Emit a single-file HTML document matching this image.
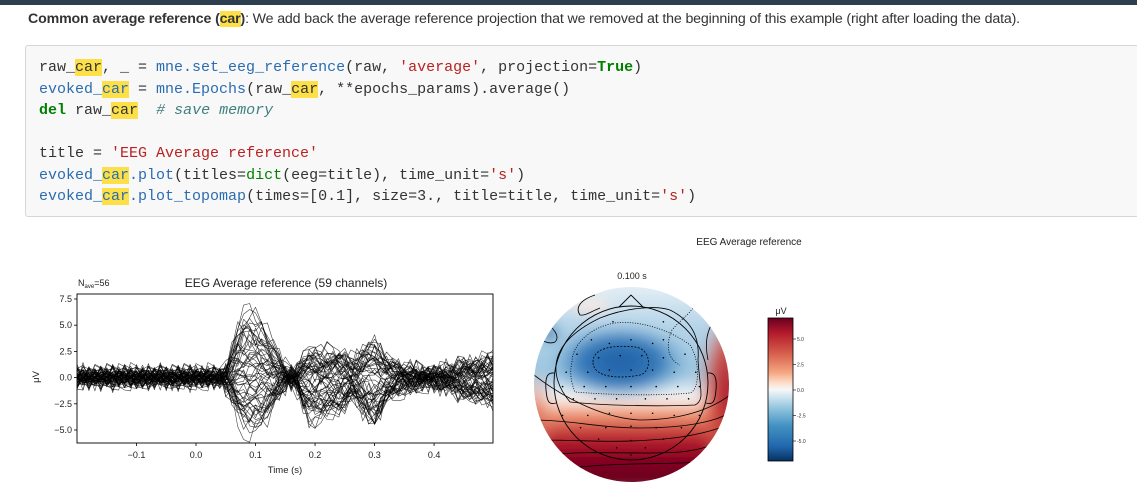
<!DOCTYPE html>
<html><head><meta charset="utf-8">
<style>
body{margin:0;width:1137px;height:494px;overflow:hidden;background:#fff;position:relative;font-family:"Liberation Sans",sans-serif}
#topbar{position:absolute;left:0;top:0;width:1137px;height:5px;background:#2c3e50}
#para{position:absolute;left:28px;top:11px;font-size:14.2px;color:#333;white-space:nowrap;letter-spacing:-0.15px}
.hl{background:#fde047}
#code{position:absolute;left:25px;top:45px;width:1120px;height:170px;background:#f8f8f8;border:1px solid #d6d6d6;border-radius:3px}
#code pre{margin:0;position:absolute;left:13px;top:11px;font-family:"Liberation Mono",monospace;font-size:15px;line-height:21.5px;color:#333}
.f{color:#2a6cb0}.s{color:#ba2121}.k{color:#008000;font-weight:bold}.c{color:#408080;font-style:italic}.g{color:#008000}
svg{position:absolute;left:0;top:0}
</style></head><body>
<div id="topbar"></div>
<div id="para"><b>Common average reference (<span class="hl">car</span>)</b>: We add back the average reference projection that we removed at the beginning of this example (right after loading the data).</div>
<div id="code"><pre>raw_<span class="hl">car</span>, _ = <span class="f">mne.set_eeg_reference</span>(raw, <span class="s">'average'</span>, projection=<span class="k">True</span>)
<span class="f">evoked_<span class="hl">car</span></span> = <span class="f">mne.Epochs</span>(raw_<span class="hl">car</span>, **epochs_params).average()
<span class="k">del</span> raw_<span class="hl">car</span>  <span class="c"># save memory</span>

title = <span class="s">'EEG Average reference'</span>
<span class="f">evoked_<span class="hl">car</span>.plot</span>(titles=<span class="g">dict</span>(eeg=title), time_unit=<span class="s">'s'</span>)
<span class="f">evoked_<span class="hl">car</span>.plot_topomap</span>(times=[0.1], size=3., title=title, time_unit=<span class="s">'s'</span>)</pre></div>

<svg width="1137" height="494" id="fig">
<defs>
<clipPath id="axclip"><rect x="77" y="294" width="416" height="149"/></clipPath>
<clipPath id="headclip"><circle cx="631.5" cy="384.5" r="97.5"/></clipPath>
<filter id="blur" x="-20%" y="-20%" width="140%" height="140%"><feGaussianBlur stdDeviation="6"/></filter>
<linearGradient id="basegrad" gradientUnits="userSpaceOnUse" x1="0" y1="287" x2="0" y2="482">
<stop offset="0" stop-color="#e3eef5"/><stop offset="0.2" stop-color="#b5d4e8"/><stop offset="0.45" stop-color="#9cc5e0"/>
<stop offset="0.54" stop-color="#e8f0f5"/><stop offset="0.58" stop-color="#f9f1ed"/><stop offset="0.64" stop-color="#f4a582"/>
<stop offset="0.71" stop-color="#d6604d"/><stop offset="0.79" stop-color="#b2182b"/><stop offset="0.9" stop-color="#800020"/><stop offset="1" stop-color="#67001f"/></linearGradient>
<radialGradient id="blueg"><stop offset="0" stop-color="#1f5fa6"/><stop offset="0.55" stop-color="#3478b8"/><stop offset="1" stop-color="#6aaad5" stop-opacity="0"/></radialGradient>
<radialGradient id="redg"><stop offset="0" stop-color="#a50f25"/><stop offset="0.6" stop-color="#cf4a3d" stop-opacity="0.85"/><stop offset="1" stop-color="#e8907a" stop-opacity="0"/></radialGradient>
<radialGradient id="redl"><stop offset="0" stop-color="#d6604d"/><stop offset="1" stop-color="#f0a890" stop-opacity="0"/></radialGradient>
<radialGradient id="darkb"><stop offset="0" stop-color="#154e8e"/><stop offset="1" stop-color="#4a90c8" stop-opacity="0"/></radialGradient>
<linearGradient id="cbgrad" x1="0" y1="0" x2="0" y2="1">
<stop offset="0" stop-color="#67001f"/><stop offset="0.1" stop-color="#b2182b"/><stop offset="0.25" stop-color="#d6604d"/>
<stop offset="0.38" stop-color="#f4a582"/><stop offset="0.45" stop-color="#fddbc7"/><stop offset="0.5" stop-color="#f7f7f7"/>
<stop offset="0.55" stop-color="#d1e5f0"/><stop offset="0.63" stop-color="#92c5de"/><stop offset="0.75" stop-color="#4393c3"/>
<stop offset="0.9" stop-color="#2166ac"/><stop offset="1" stop-color="#053061"/></linearGradient>
</defs>
<g id="evoked"></g>
<g id="topo">
 <g clip-path="url(#headclip)">
  <g filter="url(#blur)">
   <rect x="520" y="280" width="230" height="210" fill="url(#basegrad)"/>
   <ellipse cx="728" cy="395" rx="30" ry="85" fill="url(#redg)"/>
   <ellipse cx="534" cy="415" rx="22" ry="45" fill="url(#redl)"/>
   <ellipse cx="620" cy="362" rx="72" ry="40" fill="url(#blueg)"/>
   <ellipse cx="549" cy="333" rx="15" ry="11" fill="url(#darkb)"/>
   <ellipse cx="590" cy="306" rx="20" ry="7" fill="#fbe8e0" opacity="0.9"/>
  </g>
  <g fill="none" stroke="#000" stroke-width="0.8">
   <path d="M593 362 C593 347 615 345 635 347 C652 349 652 372 640 375 C620 379 593 378 593 362Z" stroke-dasharray="2,1.5"/>
   <path d="M572 362 C572 345 590 327 615 323 C640 320 670 330 690 345 C700 360 700 390 690 393 C660 396 610 395 575 392 C570 380 570 370 572 362Z" stroke-dasharray="1,1.5"/>
   <path d="M556 365 C558 345 575 330 600 318 C625 308 655 305 670 310 C690 320 700 335 698 360 C700 390 705 400 695 405 C650 407 600 405 570 402 C560 390 555 378 556 365Z"/>
   <path d="M534 375 C560 395 600 418 640 420 C680 420 710 410 730 395"/>
   <path d="M535 420 C570 420 600 428 640 428 C690 428 720 420 730 412"/>
   <path d="M540 440 C580 440 610 443 650 440 C690 438 715 430 728 425"/>
   <path d="M548 455 C590 450 640 455 680 452 C700 450 715 445 722 440"/>
   <path d="M560 470 C600 462 660 465 700 462"/>
   <path d="M595 295 C580 300 575 308 580 315 C585 316 590 312 600 308"/>
   <path d="M700 298 C690 315 680 320 672 330 C665 345 668 360 680 365" stroke-dasharray="1,1.5"/>
   <path d="M718 315 C705 330 705 345 708 360"/>
   <path d="M540 320 C555 327 560 337 555 342 C548 345 540 340 537 335"/>
  </g>
 </g>
 <circle cx="631" cy="383" r="77" fill="none" stroke="#000" stroke-width="0.9"/>
 <path d="M619 307 L631 295 L643 307" fill="none" stroke="#000" stroke-width="0.9"/>
 <path d="M554 373 C547 372 545 378 546 390 C547 402 549 405 556 403" fill="none" stroke="#000" stroke-width="0.9"/>
 <path d="M708 373 C715 372 717 378 716 390 C715 402 713 405 706 403" fill="none" stroke="#000" stroke-width="0.9"/>
 <g id="sensors" fill="#000"></g>
 <text x="632" y="279" font-size="9" text-anchor="middle" fill="#222">0.100 s</text>
 <text x="749" y="245" font-size="10" text-anchor="middle" fill="#222">EEG Average reference</text>
</g>
<g id="cbar">
 <rect x="768" y="318" width="25" height="143" fill="url(#cbgrad)" stroke="#000" stroke-width="0.8"/>
 <text x="781" y="314" font-size="9" text-anchor="middle" fill="#222">μV</text>
</g>
</svg>
<script>
var times = [];
for (var k = 0; k <= 70; k++) times.push(-0.2 + k * 0.01);
var tmplA = [0,0,0,0,0,0,0,0,0,0,0,0,0,0,0,0,0,0,0,0,0,0,0,0,0.02,0.1,0.4,0.75,0.95,1.0,0.95,0.85,0.7,0.5,0.3,0.12,0.0,-0.1,-0.2,-0.3,-0.35,-0.3,-0.2,-0.1,0,0.05,0.05,0,0,0,0,0,0,0,0,0,0,0,0,0,0,0,0,0,0,0,0,0,0,0,0];
var tmplB = [0,0,0,0,0,0,0,0,0,0,0,0,0,0,0,0,0,0,0,0,0,0,0,0,0,0,0,-0.1,-0.2,-0.25,-0.2,-0.1,0,0,0,0,0,0.3,0.6,0.85,1.0,0.9,0.8,0.7,0.7,0.6,0.4,0.5,0.7,0.9,1.0,0.75,0.5,0.35,0.3,0.25,0.2,0.15,0.1,0.1,0.1,0.15,0.2,0.25,0.3,0.35,0.4,0.45,0.5,0.5,0.55];
var weightsA = [7,6.5,6,5.5,5.2,5,4.8,4.5,4.2,4,3.7,3.5,3.2,3,2.8,2.5,2.2,2,1.8,1.5,1.2,1,0.8,0.5,0.3,0,-0.3,-0.6,-0.9,-1.2,-1.5,-1.8,-2,-2.3,-2.6,-2.9,-3.1,-3.3,-3.5,-3.7,-3.9,-4.1,-4.3,-4.5,-4.7,-4.9,-5.1,-5.3,-5.5,-1,-2,1.5,2.5,-0.5,0.6,3.8,-2.7,-4,5.8];
var weightsB = [3.3,2.8,-1.5,2,2.6,-0.8,3.4,1.5,-2.8,2.6,0.8,-2,2.2,3,-3.8,1.2,1.8,-3.2,3.2,0.5,-1.5,2,-4,1.3,2.8,-1.2,1.6,-2.8,-4.2,-2.4,0.6,-3.8,1.9,-3.2,-1.8,1,-4,-3.5,0.3,-2.2,-3.9,-0.9,-2.6,-4.2,-2,-3.6,-3,-4.1,-1.4,2.5,1.4,-0.6,3.3,-3.4,2.2,-1.6,0.9,-2.7,2.6];
var noise = [0.3,-0.5,0.8,-0.2,-0.9,0.4,1.0,-0.6,0.1,0.7,-1.0,0.5,-0.3,0.9,-0.8,0.2,0.6,-0.4,-0.7,1.0,-0.1,0.3,-0.9,0.8,-0.5,0.0,0.7,-0.6,0.4,-1.0,0.9,-0.2,0.5,-0.8,0.1,0.6,-0.3,-0.7,0.8,-0.4,1.0,-0.9,0.2,0.4,-0.6,0.7,-0.1,-0.5,0.9,-0.8,0.3,0.6,-1.0,0.5,-0.2,0.8,-0.7,0.1,0.4,-0.3,0.9,-0.6,0.2,-0.9,0.7,-0.4,0.5,0.0,-0.8,0.6,-0.5];
var xTicks = [-0.1, 0.0, 0.1, 0.2, 0.3, 0.4];
var xTickLabels = ["\u22120.1","0.0","0.1","0.2","0.3","0.4"];
var yTicks = [7.5, 5.0, 2.5, 0.0, -2.5, -5.0];
var yTickLabels = ["7.5","5.0","2.5","0.0","\u22122.5","\u22125.0"];
var cbTicks = [5.0, 2.5, 0.0, -2.5, -5.0];
var cbTickLabels = ["5.0","2.5","0.0","-2.5","-5.0"];
var sensorX = [-0.25,0.45,-0.55,0.45,-0.3,0.0,0.3,-0.75,-0.45,-0.15,0.15,0.45,0.75,-0.9,-0.6,-0.3,0.0,0.3,0.6,0.9,-0.95,-0.65,-0.35,0.0,0.35,0.65,0.95,-0.8,-0.5,-0.2,0.2,0.5,0.8,-0.95,-0.6,-0.3,0.0,0.3,0.6,0.95,-0.7,-0.35,0.0,0.35,0.7,-0.45,0.0,0.45,-0.2,0.2,0.0];
var sensorY = [-0.85,-0.85,-0.6,-0.6,-0.55,-0.6,-0.55,-0.4,-0.35,-0.38,-0.38,-0.35,-0.4,-0.15,-0.15,-0.18,-0.18,-0.18,-0.15,-0.15,0.05,0.05,0.05,0.05,0.05,0.05,0.05,0.22,0.22,0.22,0.22,0.22,0.22,0.45,0.45,0.42,0.42,0.42,0.45,0.45,0.62,0.62,0.6,0.62,0.62,0.78,0.8,0.78,0.9,0.9,1.0];

var NS = "http://www.w3.org/2000/svg";
function xs(t){ return 77 + (t + 0.2) / 0.699 * 416; }
function ys(v){ return 377.6 - v * 10.48; }
function cbY(v){ return 390 - v * 10.2; }
function mk(tag, attrs, parent){ var e = document.createElementNS(NS, tag); for (var a in attrs) e.setAttribute(a, attrs[a]); parent.appendChild(e); return e; }

var ev = document.getElementById('evoked');
var lines = mk('g', {'clip-path':'url(#axclip)'}, ev);
var L = noise.length;
for (var c = 0; c < weightsA.length; c++) {
  var d = '';
  var scale = 0.6 + 0.9 * ((c * 7) % 10) / 10;
  for (var k = 0; k < times.length; k++) {
    var i1 = (k * 3 + c * 11) % L, i2 = (k * 3 + c * 11 + 5) % L;
    var n = (0.6 * noise[i1] + 0.6 * noise[i2]) * scale;
    var v = weightsA[c] * tmplA[k] + weightsB[c] * tmplB[k] + n;
    d += (k ? 'L' : 'M') + xs(times[k]).toFixed(1) + ' ' + ys(v).toFixed(1);
  }
  var p = mk('path', {d:d, fill:'none', stroke:'#000', 'stroke-width':'0.6', 'stroke-opacity':'0.75', 'stroke-linejoin':'round'}, lines);
  
  
}
var frame = mk('rect', {x:77, y:294, width:416, height:149, fill:'none', stroke:'#000', 'stroke-width':'0.9'}, ev);


for (var i = 0; i < xTicks.length; i++) {
  var x = xs(xTicks[i]);
  mk('line', {x1:x, x2:x, y1:443, y2:446, stroke:'#000', 'stroke-width':'0.8'}, ev);
  var tx = mk('text', {x:x, y:458, 'font-size':'9', 'text-anchor':'middle', fill:'#222'}, ev);
  tx.textContent = xTickLabels[i];
  
  
}
for (var i = 0; i < yTicks.length; i++) {
  var y = ys(yTicks[i]);
  mk('line', {x1:74, x2:77, y1:y, y2:y, stroke:'#000', 'stroke-width':'0.8'}, ev);
  var ty = mk('text', {x:72, y:y + 3, 'font-size':'9', 'text-anchor':'end', fill:'#222'}, ev);
  ty.textContent = yTickLabels[i];
  
  
}
var xl = mk('text', {x:285, y:473, 'font-size':'9.5', 'text-anchor':'middle', fill:'#222'}, ev);
xl.textContent = 'Time (s)';


var yl = mk('text', {x:0, y:0, 'font-size':'9.5', 'text-anchor':'middle', fill:'#222', transform:'translate(39,377) rotate(-90)'}, ev);
yl.textContent = 'μV';


var tt = mk('text', {x:286, y:287, 'font-size':'12', 'text-anchor':'middle', fill:'#222'}, ev);
tt.textContent = 'EEG Average reference (59 channels)';


var nv = mk('text', {x:78, y:286, 'font-size':'9', fill:'#222'}, ev);
nv.innerHTML = 'N<tspan font-size="6" dy="2">ave</tspan><tspan dy="-2">=56</tspan>';



var sg = document.getElementById('sensors');
for (var i = 0; i < sensorX.length; i++) {
  var dot = mk('circle', {cx:631 + sensorX[i] * 72, cy:383 + sensorY[i] * 72, r:0.8}, sg);
  
  
}
var cb = document.getElementById('cbar');
for (var i = 0; i < cbTicks.length; i++) {
  var y = cbY(cbTicks[i]);
  mk('line', {x1:793, x2:796, y1:y, y2:y, stroke:'#000', 'stroke-width':'0.6'}, cb);
  var ct = mk('text', {x:797, y:y + 2, 'font-size':'5', fill:'#333'}, cb);
  ct.textContent = cbTickLabels[i];
  
  
}
</script>
</body></html>
